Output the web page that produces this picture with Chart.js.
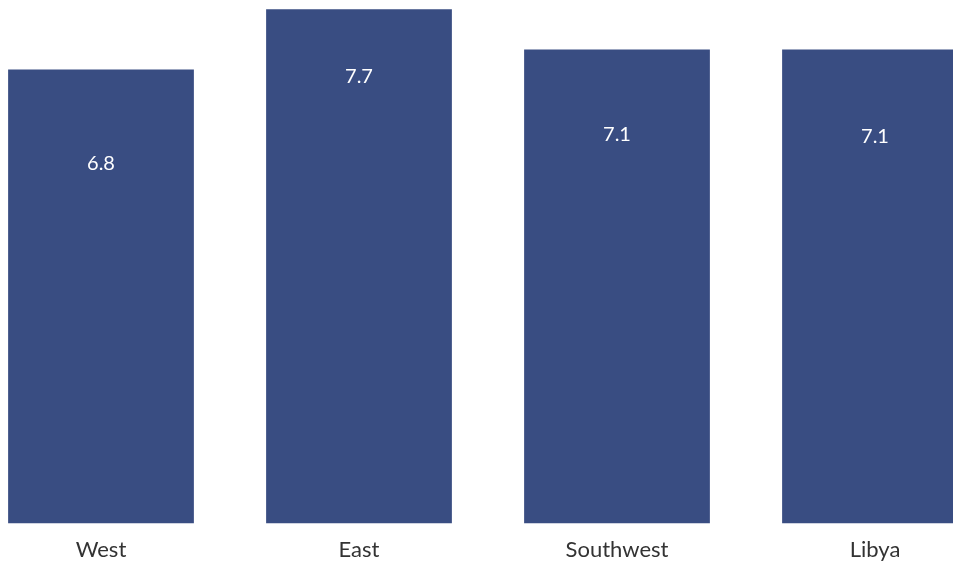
<!DOCTYPE html>
<html>
<head>
<meta charset="utf-8">
<script src="https://cdn.jsdelivr.net/npm/chart.js@4"></script>
<style>
  html, body { margin: 0; padding: 0; background: #fff; overflow: hidden; }
  body { width: 953px; height: 563px; position: relative; }
  #wrap { position: absolute; left: -28px; top: 0; width: 1032px; height: 570px; }
</style>
</head>
<body>
<div id="wrap"><canvas id="myChart"></canvas></div>
<script>
var regions = ["West", "East", "Southwest", "Libya"];
var scores = [6.8, 7.7, 7.1, 7.1];

// value labels sit inside each bar, some distance under its top
var valueLabels = {
  id: "valueLabels",
  afterDatasetsDraw: function (chart, args, opts) {
    var ctx = chart.ctx;
    var meta = chart.getDatasetMeta(0);
    ctx.save();
    ctx.fillStyle = "#ffffff";
    ctx.font = "20px Lato";
    ctx.textAlign = "center";
    ctx.textBaseline = "middle";
    meta.data.forEach(function (bar, i) {
      ctx.fillText(scores[i].toFixed(1), bar.x, bar.y + opts.offsets[i]);
    });
    ctx.restore();
  },
};

var ctx = document.getElementById("myChart").getContext("2d");
var myChart = new Chart(ctx, {
  type: "bar",
  data: {
    labels: regions,
    datasets: [
      {
        data: scores,
        backgroundColor: "#394d82",
        barPercentage: 0.72,
        categoryPercentage: 1,
      },
    ],
  },
  options: {
    responsive: true,
    maintainAspectRatio: false,
    animation: false,
    layout: { padding: { top: 0, bottom: 2, left: 0, right: 0 } },
    plugins: {
      legend: { display: false },
      tooltip: { enabled: false },
      valueLabels: { offsets: [94, 67, 85, 87] },
    },
    scales: {
      x: {
        grid: { display: false },
        border: { display: false },
        ticks: {
          color: "#333333",
          padding: 5,
          font: { family: "Lato", size: 22 },
        },
      },
      y: {
        display: false,
        min: 0,
        max: 7.84,
      },
    },
  },
  plugins: [valueLabels],
});
</script>
</body>
</html>
